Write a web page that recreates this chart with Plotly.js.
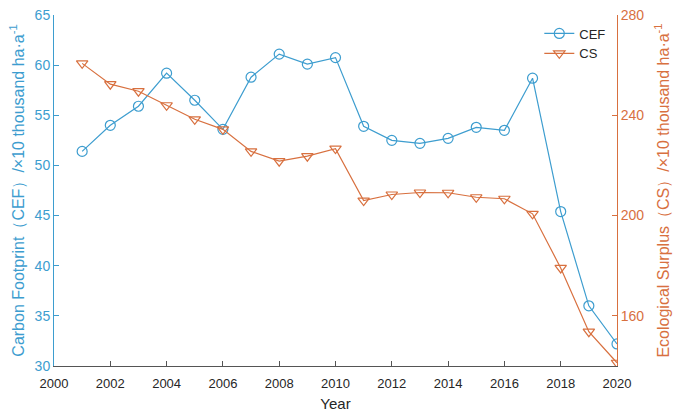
<!DOCTYPE html>
<html>
<head>
<meta charset="utf-8">
<script src="https://cdn.plot.ly/plotly-3.0.1.min.js"></script>
<style>html,body{margin:0;padding:0;background:#fff;}#chart{width:685px;height:416px;}</style>
</head>
<body>
<div id="chart"></div>
<script>
const years = [2001,2002,2003,2004,2005,2006,2007,2008,2009,2010,2011,2012,2013,2014,2015,2016,2017,2018,2019,2020];
const cef = [51.4,54.0,55.9,59.2,56.5,53.6,58.8,61.1,60.1,60.75,53.9,52.5,52.2,52.7,53.8,53.5,58.7,45.4,36.0,32.2];
const cs = [260.7,252.4,249.6,244.0,238.4,234.4,225.6,221.7,223.7,226.7,206.0,208.4,209.2,209.1,207.3,206.7,200.7,179.1,153.7,141.3];
const xTicks = [2000,2002,2004,2006,2008,2010,2012,2014,2016,2018,2020];
const leftTicks = [30,35,40,45,50,55,60,65];
const rightTicks = [160,200,240,280];

const blue = '#3d9dcf';
const orange = '#d8703f';
const font = '"Liberation Sans", Arial, sans-serif';

const traces = [
  {x: years, y: cef, name: 'CEF', type: 'scatter', mode: 'lines+markers',
   line: {color: blue, width: 1.2},
   marker: {symbol: 'circle-open', size: 10, color: blue, line: {width: 1.2, color: blue}},
   yaxis: 'y'},
  {x: years, y: cs, name: 'CS', type: 'scatter', mode: 'lines+markers',
   line: {color: orange, width: 1.2},
   marker: {symbol: 'triangle-down-open', size: 10, color: orange, line: {width: 1.2, color: orange}},
   yaxis: 'y2'}
];

const layout = {
  width: 685, height: 416,
  margin: {l: 54, r: 68, t: 15, b: 50},
  paper_bgcolor: '#fff', plot_bgcolor: '#fff',
  font: {family: font, size: 13, color: '#262626'},
  showlegend: true,
  legend: {x: 0.862, y: 0.99, xanchor: 'left', yanchor: 'top', bgcolor: 'rgba(0,0,0,0)',
           font: {size: 13, color: '#262626'}, tracegroupgap: 0},
  xaxis: {range: [2000, 2020], tickvals: xTicks, ticks: 'inside', ticklen: 5,
          showline: true, linecolor: '#555', tickcolor: '#555', linewidth: 1,
          showgrid: false, zeroline: false, ticklabelstandoff: 5,
          tickfont: {size: 13, color: '#262626'},
          title: {text: 'Year', font: {size: 15, color: '#262626'}, standoff: 8}},
  yaxis: {range: [30, 65], tickvals: leftTicks, ticks: 'inside', ticklen: 5,
          showline: true, linecolor: blue, tickcolor: blue, linewidth: 1,
          showgrid: false, zeroline: false,
          tickfont: {size: 14, color: blue},
          title: {text: 'Carbon Footprint（CEF）/×10 thousand ha·a<sup>-1</sup>', font: {size: 16, color: blue}, standoff: 6}},
  yaxis2: {range: [140, 280], tickvals: rightTicks, ticks: 'inside', ticklen: 5,
           overlaying: 'y', side: 'right',
           showline: true, linecolor: orange, tickcolor: orange, linewidth: 1,
           showgrid: false, zeroline: false,
           tickfont: {size: 14, color: orange},
           title: {text: 'Ecological Surplus（CS）/×10 thousand ha·a<sup>-1</sup>', font: {size: 16, color: orange}, standoff: 14}}
};

Plotly.newPlot('chart', traces, layout, {displayModeBar: false, staticPlot: true});
</script>
</body>
</html>
